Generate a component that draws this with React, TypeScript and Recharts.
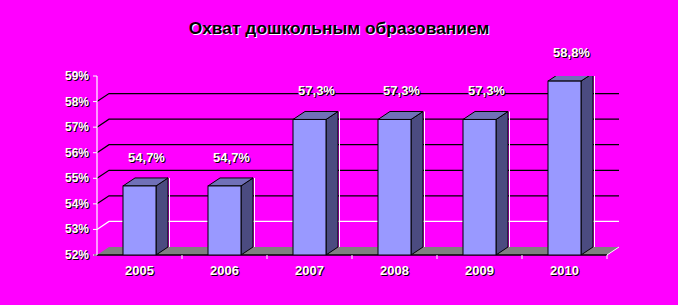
import React from 'react';
import { BarChart, Bar, XAxis, YAxis, CartesianGrid, LabelList } from 'recharts';

const TITLE = 'Охват дошкольным образованием';
const YEARS = ['2005', '2006', '2007', '2008', '2009', '2010'];
const COVERAGE = [54.7, 54.7, 57.3, 57.3, 57.3, 58.8];
const Y_TICKS = [52, 53, 54, 55, 56, 57, 58, 59];

const data = YEARS.map((year, i) => ({ year, value: COVERAGE[i] }));

const W = 678;
const H = 305;
const DX = 12;
const DY = 8;
const FONT = '"Liberation Sans", Arial, sans-serif';
const BG = '#FF00FF';

const fmt = (v: number) => `${v.toFixed(1).replace('.', ',')}%`;

const ShadowText = (p: any) => {
  const { x, y, children, anchor = 'middle', size = 12, fill = '#FFFFFF', shadow = '#000000' } = p;
  return (
    <g>
      <text x={x + 1} y={y + 1} textAnchor={anchor} fontFamily={FONT} fontWeight="bold" fontSize={size} fill={shadow}>
        {children}
      </text>
      <text x={x} y={y} textAnchor={anchor} fontFamily={FONT} fontWeight="bold" fontSize={size} fill={fill}>
        {children}
      </text>
    </g>
  );
};

const GridLine = (props: any) => {
  const { x1, x2, y1, index } = props;
  let rank = index;
  if (typeof props.y === 'number' && typeof props.height === 'number' && props.height > 0) {
    const step = props.height / (Y_TICKS.length - 1);
    rank = Math.round((props.y + props.height - y1) / step);
  }
  const value = Y_TICKS[rank];
  if (value === Y_TICKS[0]) {
    const n = YEARS.length;
    const band = (x2 - x1) / n;
    const ticks = [];
    for (let k = 1; k <= n; k++) {
      const tx = x1 + band * k;
      ticks.push(<line key={k} x1={tx} x2={tx} y1={y1} y2={y1 + 4} stroke="#FFFFFF" strokeWidth={1} />);
    }
    return (
      <g key={props.key}>
        <polygon
          points={`${x1},${y1} ${x1 + DX},${y1 - DY} ${x2 + DX},${y1 - DY} ${x2},${y1}`}
          fill="#808080"
          stroke="none"
        />
        <line x1={x2} y1={y1} x2={x2 + DX} y2={y1 - DY} stroke="#FFFFFF" strokeWidth={1} />
        <line x1={x1 - 3} y1={y1} x2={x2} y2={y1} stroke="#000000" strokeWidth={1.3} />
        {ticks}
      </g>
    );
  }
  if (value === Y_TICKS[Y_TICKS.length - 1] || value === undefined) {
    return <g key={props.key} />;
  }
  const color = value === 53 ? '#FFFFFF' : '#000000';
  return (
    <g key={props.key}>
      <polyline
        points={`${x1},${y1} ${x1 + DX},${y1 - DY} ${x2 + DX},${y1 - DY}`}
        fill="none"
        stroke={color}
        strokeWidth={1.2}
      />
    </g>
  );
};

const Bar3D = (props: any) => {
  const { x, y, width, height } = props;
  if (!width || !height) return <g />;
  return (
    <g>
      <polygon
        points={`${x + width},${y} ${x + width + DX},${y - DY} ${x + width + DX},${y + height - DY} ${x + width},${y + height}`}
        fill="#4B4B80"
        stroke="#000000"
        strokeWidth={1}
      />
      <line
        x1={x + width + DX + 1.5}
        y1={y - DY}
        x2={x + width + DX + 1.5}
        y2={y + height - DY}
        stroke="#FFFFFF"
        strokeWidth={1}
      />
      <polygon
        points={`${x},${y} ${x + DX},${y - DY} ${x + width + DX},${y - DY} ${x + width},${y}`}
        fill="#7070B8"
        stroke="#000000"
        strokeWidth={1}
      />
      <rect x={x} y={y} width={width} height={height} fill="#9999FF" stroke="#000000" strokeWidth={1} />
    </g>
  );
};

const ValueLabel = (props: any) => {
  const { x, y, width, value } = props;
  return (
    <ShadowText x={x + width / 2 + 7} y={y - 24} size={13}>
      {fmt(Number(value))}
    </ShadowText>
  );
};

const YTick = (props: any) => {
  const { x, y, payload } = props;
  return (
    <ShadowText x={x} y={y + 4} anchor="end" size={12}>
      {`${payload.value}%`}
    </ShadowText>
  );
};

const XTick = (props: any) => {
  const { x, y, payload } = props;
  return (
    <ShadowText x={x} y={y + 20} size={13}>
      {payload.value}
    </ShadowText>
  );
};

export default function App() {
  return (
    <div style={{ position: 'absolute', left: 0, top: 0, width: W, height: H, background: BG, overflow: 'hidden' }}>
      <svg width={W} height={H} style={{ position: 'absolute', left: 0, top: 0 }}>
        <text x={W / 2 + 1} y={35} textAnchor="middle" fontFamily={FONT} fontWeight="bold" fontSize={17.4} fill="#FFFFFF">
          {TITLE}
        </text>
        <text x={W / 2} y={34} textAnchor="middle" fontFamily={FONT} fontWeight="bold" fontSize={17.4} fill="#000000">
          {TITLE}
        </text>
      </svg>
      <div style={{ position: 'absolute', left: 0, top: 0 }}>
        <BarChart width={W} height={H} data={data} margin={{ top: 76, right: 71, bottom: 0, left: 0 }}>
          <CartesianGrid vertical={false} horizontal={(p: any) => <GridLine {...p} />} />
          <XAxis
            dataKey="year"
            height={50}
            axisLine={false}
            tickLine={false}
            tickSize={0}
            tickMargin={0}
            tick={<XTick />}
            interval={0}
          />
          <YAxis
            type="number"
            domain={[52, 59]}
            ticks={Y_TICKS}
            width={97}
            axisLine={{ stroke: '#FFFFFF', strokeWidth: 1.2 }}
            tickLine={{ stroke: '#FFFFFF', strokeWidth: 1 }}
            tickSize={4}
            tickMargin={4}
            tick={<YTick />}
            interval={0}
            allowDataOverflow
          />
          <Bar dataKey="value" barSize={33} shape={<Bar3D />} isAnimationActive={false}>
            <LabelList dataKey="value" content={<ValueLabel />} />
          </Bar>
        </BarChart>
      </div>
    </div>
  );
}
